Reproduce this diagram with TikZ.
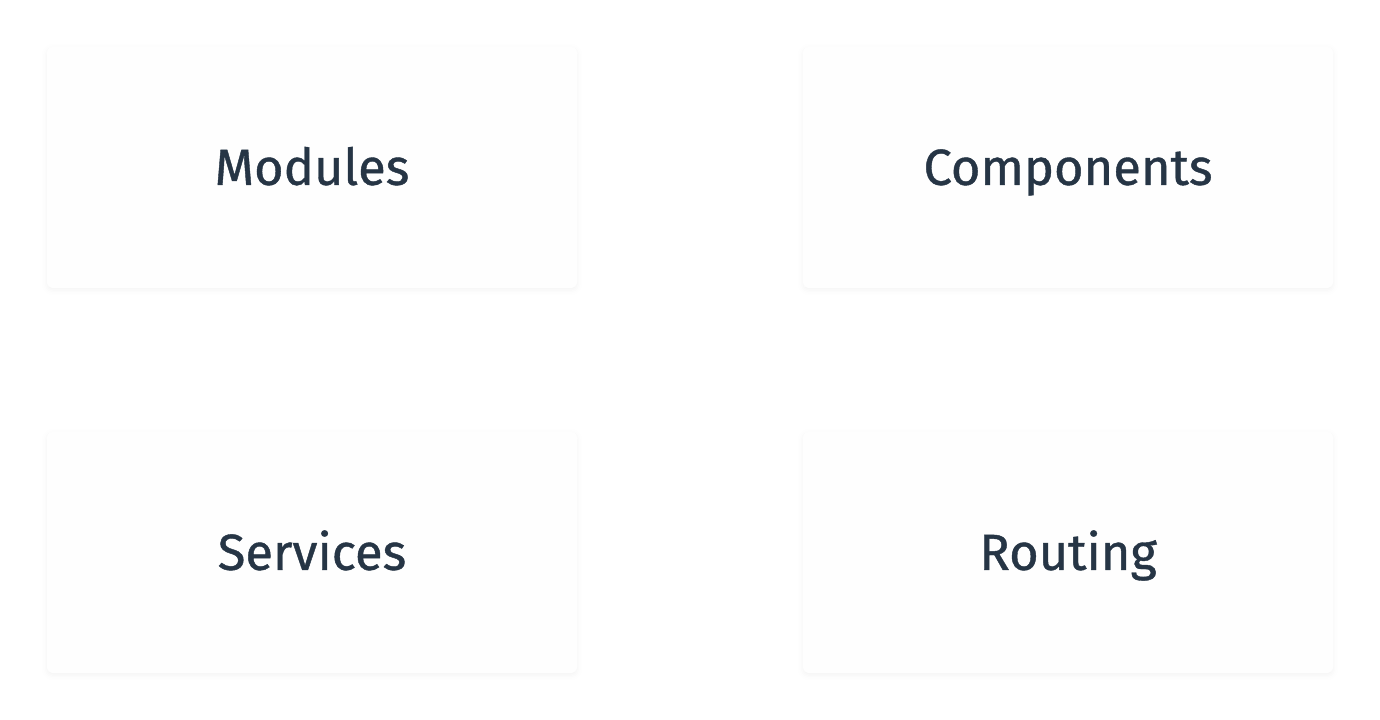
\documentclass[tikz,border=0pt]{standalone}
\usepackage{fontspec}
\setmainfont{Fira Sans}[UprightFeatures={FakeBold=0.8}]
\usetikzlibrary{shadows.blur}
\definecolor{cardtext}{HTML}{263545}
\definecolor{cardfill}{HTML}{FEFEFE}
\tikzset{
    card/.style={align=center, minimum width=397.5pt, minimum height=180.75pt,
        rounded corners=4pt, fill=cardfill, text=cardtext,
        font=\fontsize{38}{46}\selectfont, text height=26pt, text depth=0pt,
        blur shadow={shadow xshift=0pt, shadow yshift=-1.5pt, shadow blur radius=4pt,
            shadow opacity=5}}
}
\begin{document}
\begin{tikzpicture}[x=0.75pt,y=0.75pt,yscale=-1]

    \useasboundingbox (0,0) rectangle (1380,720);
    \draw (312,167.5) node [card] (modules) {Modules};
    \draw (1068,167.5) node [card] (components) {Components};
    \draw (312,552.5) node [card] (services) {Services};
    \draw (1068,552.5) node [card] (routing) {Routing};

\end{tikzpicture}
\end{document}
